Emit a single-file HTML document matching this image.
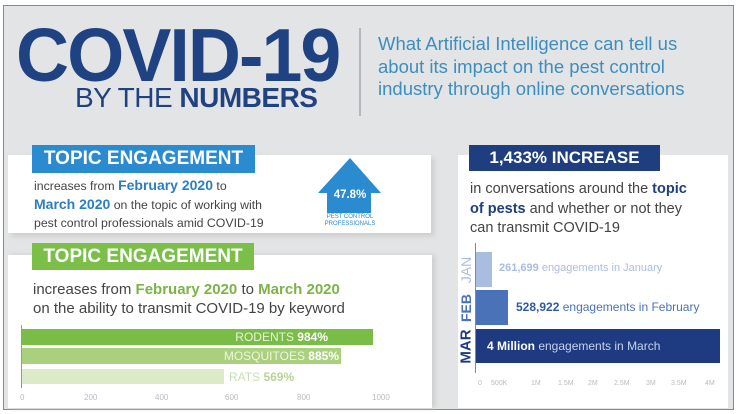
<!DOCTYPE html><html><head><style>
body{margin:0;width:736px;height:414px;background:#fff;position:relative;overflow:hidden;font-family:"Liberation Sans",sans-serif}
.a{position:absolute}
.t{white-space:nowrap}
</style></head><body>
<div class="a" style="left:3px;top:5px;width:729px;height:403px;background:#e3e4e5;border:1px solid #888"></div>
<div class="a t" style="left:16px;top:12px;font-size:75px;font-weight:bold;color:#1f4283;letter-spacing:-2px;transform:scaleX(0.98);transform-origin:left">COVID-19</div>
<div class="a t" style="left:75px;top:82px;font-size:28px;color:#1f4283;letter-spacing:-0.5px">BY THE <b>NUMBERS</b></div>
<div class="a" style="left:359px;top:28px;width:2px;height:88px;background:#b5b8bb"></div>
<div class="a t" style="left:378px;top:33px;font-size:18.5px;line-height:22.5px;color:#3c8ec0">What Artificial Intelligence can tell us<br>about its impact on the pest control<br>industry through online conversations</div>

<div class="a" style="left:8px;top:155px;width:423px;height:78px;background:#fff;box-shadow:3px 3px 5px #ccc"></div>
<div class="a" style="left:32px;top:145px;width:223px;height:28px;background:#2a8bd0;color:#fff;font-weight:bold;font-size:19px;line-height:28px;text-align:center">TOPIC ENGAGEMENT</div>
<div class="a t" style="left:34px;top:176px;font-size:12.3px;line-height:18px;color:#444">increases from <b style="color:#2a7fc2;font-size:14px">February 2020</b> to<br><b style="color:#2a7fc2;font-size:14px">March 2020</b> on the topic of working with<br>pest control professionals amid COVID-19</div>
<svg class="a" style="left:316px;top:157px" width="68" height="58"><polygon points="34,1 65,36 55,36 55,56 11,56 11,36 2,36" fill="#2a8bd0"/><text x="34" y="41" text-anchor="middle" fill="#fff" font-size="11.5" font-weight="bold" font-family="Liberation Sans">47.8%</text></svg>
<div class="a" style="left:315px;top:214px;width:70px;text-align:center;font-size:6px;line-height:7px;color:#2a8bd0">PEST CONTROL<br>PROFESSIONALS</div>

<div class="a" style="left:8px;top:255px;width:424px;height:153px;background:#fff;box-shadow:3px 0 5px #ccc"></div>
<div class="a" style="left:32px;top:243px;width:222px;height:27px;background:#7bbf49;color:#fff;font-weight:bold;font-size:19px;line-height:27px;text-align:center">TOPIC ENGAGEMENT</div>
<div class="a t" style="left:33px;top:280px;font-size:15px;line-height:19px;color:#444">increases from <b style="color:#7bb446">February 2020</b> to <b style="color:#7bb446">March 2020</b><br>on the ability to transmit COVID-19 by keyword</div>
<div class="a" style="left:21px;top:325px;width:1px;height:63px;background:#999"></div>
<div class="a t" style="left:22px;top:329px;width:351px;height:16px;background:#79bc46;color:#e9f4de;font-size:12px;line-height:17px;text-align:right;box-sizing:border-box;padding-right:45px">RODENTS <b style="color:#fff">984%</b></div>
<div class="a t" style="left:22px;top:348px;width:319px;height:16px;background:#a9d07c;color:#eef6e4;font-size:12px;line-height:17px;text-align:right;box-sizing:border-box;padding-right:2px">MOSQUITOES <b style="color:#fff">885%</b></div>
<div class="a" style="left:22px;top:369px;width:202px;height:15px;background:#dceac8"></div>
<div class="a t" style="left:229px;top:369px;font-size:12px;line-height:16px;color:#c9deb0">RATS <b style="color:#b9d397">569%</b></div>
<div class="a" style="top:393px;left:0;font-size:8px;color:#bbb">
<span class="a" style="left:20px">0</span><span class="a" style="left:84px">200</span><span class="a" style="left:155px">400</span><span class="a" style="left:225px">600</span><span class="a" style="left:297px">800</span><span class="a" style="left:372px">1000</span></div>

<div class="a" style="left:458px;top:155px;width:270px;height:253px;background:#fff"></div>
<div class="a" style="left:469px;top:145px;width:191px;height:26px;background:#1e3e7f;color:#fff;font-weight:bold;font-size:17px;line-height:26px;text-align:center">1,433% INCREASE</div>
<div class="a t" style="left:470px;top:180px;font-size:14.5px;line-height:19.5px;color:#444">in conversations around the <b style="color:#1e3e7f">topic</b><br><b style="color:#1e3e7f">of pests</b> and whether or not they<br>can transmit COVID-19</div>
<div class="a" style="left:475px;top:243px;width:1px;height:130px;background:#888"></div>
<div class="a" style="left:476px;top:252px;width:16px;height:35px;background:#a9bde0"></div>
<div class="a" style="left:476px;top:290px;width:32px;height:35px;background:#4a72b8"></div>
<div class="a" style="left:476px;top:329px;width:244px;height:34px;background:#1e3a80"></div>
<div class="a t" style="left:499px;top:262px;font-size:11px;color:#a9bde0"><b>261,699</b> engagements in January</div>
<div class="a t" style="left:516px;top:300px;font-size:12px;color:#4a72b8"><b style="color:#2d5aa3">528,922</b> engagements in February</div>
<div class="a t" style="left:487px;top:339px;font-size:12px;color:#c6d3ec"><b style="color:#fff">4 Million</b> engagements in March</div>
<div class="a t" style="left:448px;top:262px;width:36px;text-align:center;transform:rotate(-90deg);font-size:14px;color:#a9bde0">JAN</div>
<div class="a t" style="left:448px;top:300px;width:36px;text-align:center;transform:rotate(-90deg);font-size:14px;color:#4a72b8;font-weight:bold">FEB</div>
<div class="a t" style="left:444px;top:338px;width:44px;text-align:center;transform:rotate(-90deg);font-size:15px;color:#1e3a80;font-weight:bold">MAR</div>
<div class="a" style="top:380px;left:0;font-size:7px;color:#bbb">
<span class="a" style="left:478px">0</span><span class="a" style="left:491px">500K</span><span class="a" style="left:531px">1M</span><span class="a" style="left:558px">1.5M</span><span class="a" style="left:588px">2M</span><span class="a" style="left:614px">2.5M</span><span class="a" style="left:646px">3M</span><span class="a" style="left:671px">3.5M</span><span class="a" style="left:705px">4M</span></div>
</body></html>
